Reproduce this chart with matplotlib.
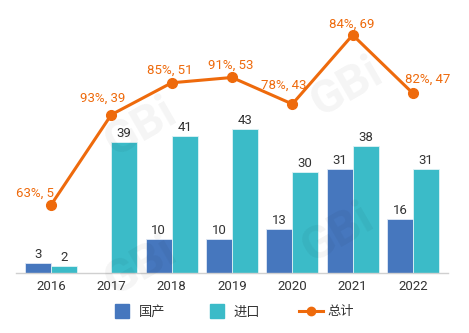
import matplotlib
matplotlib.use("Agg")
import matplotlib.pyplot as plt
from matplotlib.lines import Line2D
import numpy as np

plt.rcParams['font.family'] = ['Roboto', 'Noto Sans CJK SC', 'DejaVu Sans']

years = ["2016", "2017", "2018", "2019", "2020", "2021", "2022"]
domestic = [3, 0, 10, 10, 13, 31, 16]
imported = [2, 39, 41, 43, 30, 38, 31]
total = [5, 39, 51, 53, 43, 69, 47]
share = ["63%", "93%", "85%", "91%", "78%", "84%", "82%"]

# label offsets (pixels) for the total-line annotations
line_label_offsets = [(-16, 12), (-9, 16), (-2, 13), (-1, 12), (-9, 19), (-1, 11), (15, 14)]

C_BLUE = "#4677BE"
C_TEAL = "#3BBBC8"
C_ORANGE = "#EE6A0C"
C_TEXT = "#333333"

W, H = 469, 333
fig = plt.figure(figsize=(W / 100, H / 100), dpi=100)
ax_left, ax_right = 16 / W, 448 / W
ax_bottom, ax_top = 1 - 273 / H, 1 - 10 / H
ax = fig.add_axes([ax_left, ax_bottom, ax_right - ax_left, ax_top - ax_bottom])

x = np.arange(len(years))
bw = 0.43
b1 = ax.bar(x - bw / 2, domestic, bw, color=C_BLUE, edgecolor="#dfe8f5", linewidth=0.6, zorder=2)
b2 = ax.bar(x + bw / 2, imported, bw, color=C_TEAL, edgecolor="#dff3f5", linewidth=0.6, zorder=2)

for bars, vals in ((b1, domestic), (b2, imported)):
    for rect, v in zip(bars, vals):
        if v > 0:
            ax.annotate(str(v), (rect.get_x() + rect.get_width() / 2, v), xytext=(0, 2),
                        textcoords="offset pixels", ha="center", va="bottom",
                        fontsize=9.5, color=C_TEXT, zorder=4)

ax.set_xlim(-0.58, 6.58)
ax.set_ylim(0, 78.5)
ax.set_xticks(x)
ax.set_xticklabels(years, fontsize=9.5, color=C_TEXT)
ax.tick_params(axis="x", length=0, pad=5)
ax.set_yticks([])
for s in ["top", "right", "left"]:
    ax.spines[s].set_visible(False)
ax.spines["bottom"].set_color("#d0d0d0")
ax.spines["bottom"].set_linewidth(1.0)

ax2 = ax.twinx()
ax2.set_ylim(-20.6, 78.4)
ax2.plot(x, total, color=C_ORANGE, linewidth=2.2, marker="o", markersize=7, zorder=5)
for xi, t, p, (dx, dy) in zip(x, total, share, line_label_offsets):
    ax2.annotate(f"{p}, {t}", (xi, t), xytext=(dx, dy), textcoords="offset pixels",
                 ha="center", va="center", fontsize=9.5, color=C_ORANGE)
ax2.set_yticks([])
for s in ["top", "right", "left", "bottom"]:
    ax2.spines[s].set_visible(False)

# faint watermark marks
for (wx, wy) in [(0.30, 0.62), (0.74, 0.74), (0.72, 0.30), (0.30, 0.20)]:
    fig.text(wx, wy, "GBi", fontsize=34, fontweight="bold", color="#000000", alpha=0.045,
             rotation=30, ha="center", va="center", zorder=0)

handles = [
    Line2D([0], [0], color=C_BLUE, marker="s", linestyle="none", markersize=9.5),
    Line2D([0], [0], color=C_TEAL, marker="s", linestyle="none", markersize=9.5),
    Line2D([0], [0], color=C_ORANGE, linewidth=2.2, marker="o", markersize=6),
]
fig.legend(handles, ["国产", "进口", "总计"], loc="center", bbox_to_anchor=(0.495, 1 - 312 / H),
           ncol=3, frameon=False, fontsize=9.5, handlelength=1.8,
           columnspacing=3.0, handletextpad=0.35, labelcolor=C_TEXT)

fig.savefig("out.png", dpi=100)
